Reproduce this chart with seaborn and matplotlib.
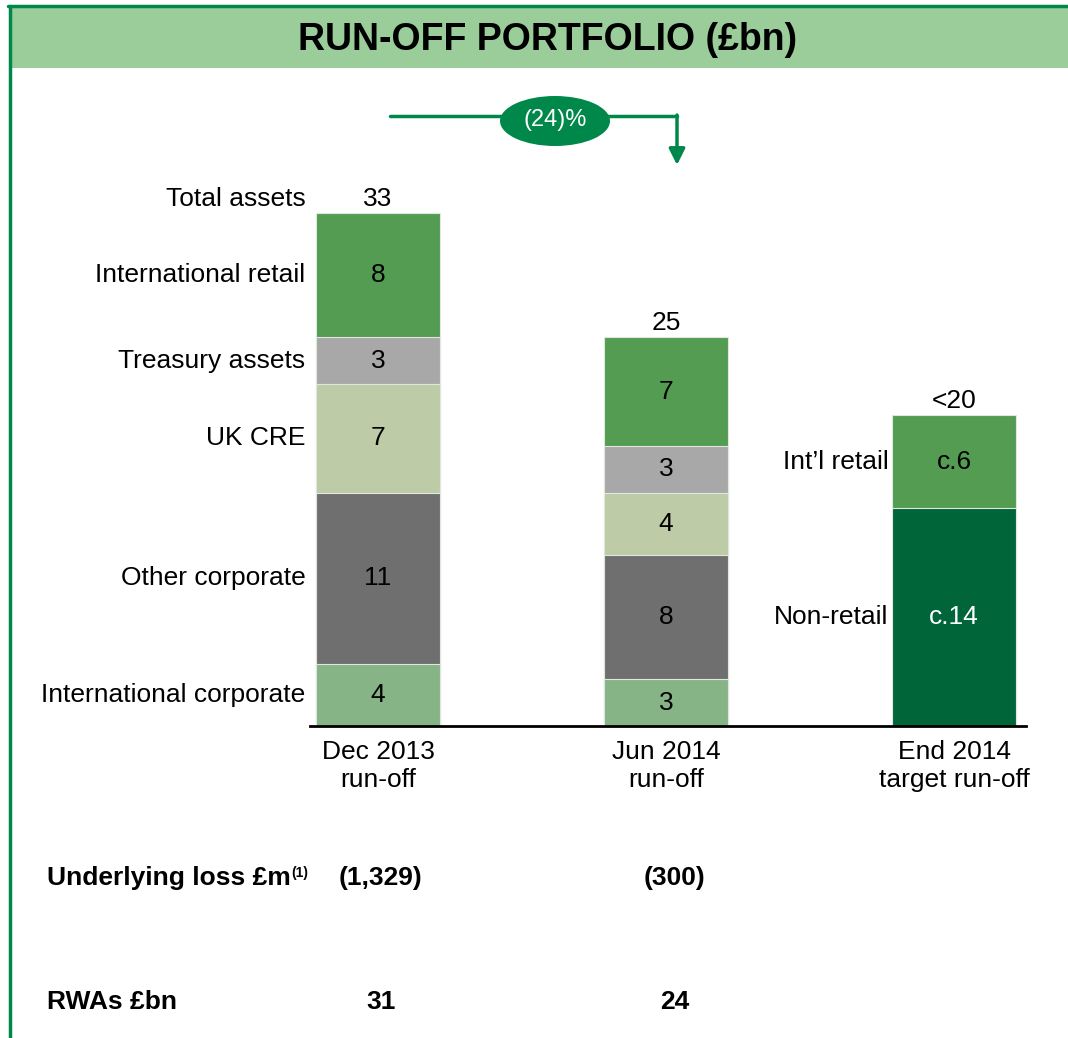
import pandas as pd
import matplotlib.pyplot as plt
import matplotlib.transforms as mtransforms
from matplotlib.patches import Ellipse, Rectangle, FancyArrowPatch
from matplotlib.lines import Line2D
import seaborn as sns

# Data
periods = ["Dec 2013\nrun-off", "Jun 2014\nrun-off", "End 2014\ntarget run-off"]
segments = ["International corporate", "Other corporate", "UK CRE",
            "Treasury assets", "International retail"]  # bottom -> top
dec13 = [4, 11, 7, 3, 8]
jun14 = [3, 8, 4, 3, 7]
target_segments = ["Non-retail", "Int\u2019l retail"]
target = [14, 6]
target_labels = ["c.14", "c.6"]
total_labels = ["33", "25", "<20"]
loss_labels = ["(1,329)", "(300)"]
rwa_labels = ["31", "24"]
change_label = "(24)%"

seg_colors = {
    "International corporate": "#86B487",
    "Other corporate": "#6F6F6F",
    "UK CRE": "#BECBA7",
    "Treasury assets": "#A8A8A8",
    "International retail": "#539C52",
    "Int\u2019l retail": "#539C52",
    "Non-retail": "#00663A",
}
border_green = "#00884A"

# long table with cumulative tops so the stacks can be layered
rows = []
for period, names, vals, labs in zip(periods,
                                     [segments, segments, target_segments],
                                     [dec13, jun14, target],
                                     [[str(v) for v in dec13], [str(v) for v in jun14], target_labels]):
    base = 0
    for level, (name, v, lab) in enumerate(zip(names, vals, labs)):
        rows.append(dict(period=period, segment=name, value=v, bottom=base,
                         top=base + v, level=level, label=lab))
        base += v
df = pd.DataFrame(rows)

sns.set_theme(style="white")
plt.rcParams['font.family'] = ['Liberation Sans', 'DejaVu Sans']
plt.rcParams['text.color'] = 'black'
plt.rcParams['xtick.color'] = 'black'

W, H = 1068, 1038
fig = plt.figure(figsize=(W / 100, H / 100), dpi=100)


def fy(py):
    return 1 - py / H


fs = 19
px_per_unit = 15.55
ax = fig.add_axes([310 / W, fy(726), (1026 - 310) / W, (726 - 100) / H])

bar_w = 0.434
# draw cumulative bars from the top layer down so lower segments sit on top
for level in sorted(df["level"].unique(), reverse=True):
    sub = df[df["level"] == level]
    sns.barplot(data=sub, x="period", y="top", hue="segment", palette=seg_colors,
                order=periods, dodge=False, width=bar_w, saturation=1,
                errorbar=None, legend=False, edgecolor="#dfe8df", linewidth=0.8, ax=ax)

ax.set_xlim(-68 / 288, 2 + 72 / 288)
ax.set_ylim(0, 626 / px_per_unit)

# values inside segments
for _, r in df.iterrows():
    xi = periods.index(r["period"])
    col = "white" if r["segment"] == "Non-retail" else "black"
    ax.text(xi, r["bottom"] + r["value"] / 2, r["label"], ha="center", va="center",
            fontsize=fs, color=col)

# totals above bars
off = 14 / px_per_unit
totals = df.groupby("period", sort=False)["top"].max()
for i, p in enumerate(periods):
    ax.text(i, totals[p] + off, total_labels[i], ha="center", va="center", fontsize=fs)

# segment names to the left of first bar and third bar
lx = -bar_w / 2 - 10 / 288
first = df[df["period"] == periods[0]]
for _, r in first.iterrows():
    ax.text(lx, r["bottom"] + r["value"] / 2, r["segment"], ha="right", va="center", fontsize=fs)
ax.text(lx, totals[periods[0]] + off, "Total assets", ha="right", va="center", fontsize=fs)

third = df[df["period"] == periods[2]]
for _, r in third.iterrows():
    ax.text(2 - bar_w / 2 - 3 / 288, r["bottom"] + r["value"] / 2, r["segment"],
            ha="right", va="center", fontsize=fs)

ax.set_xlabel("")
ax.set_ylabel("")
ax.set_yticks([])
ax.tick_params(axis="x", length=0, pad=10, labelsize=fs, labelcolor="black")
for s in ["left", "top", "right"]:
    ax.spines[s].set_visible(False)
ax.spines["bottom"].set_color("black")
ax.spines["bottom"].set_linewidth(2)
ax.set_facecolor("none")

# header band and frame
fig.patches.append(Rectangle((10 / W, fy(68)), 1 - 10 / W, 60 / H, transform=fig.transFigure,
                             facecolor="#9BCD9B", edgecolor="none", zorder=0))
fig.add_artist(Line2D([8 / W, 1], [fy(6), fy(6)], color=border_green, lw=2.5))
fig.add_artist(Line2D([9.5 / W, 9.5 / W], [fy(6), 0], color=border_green, lw=2.5))
fig.text(548 / W, fy(40), "RUN-OFF PORTFOLIO (\u00a3bn)", ha="center", va="center",
         fontsize=27, fontweight="bold")

# change arrow from first to second bar
fig.add_artist(Line2D([390 / W, 677 / W], [fy(116), fy(116)], color=border_green, lw=2.5))
fig.add_artist(FancyArrowPatch((677 / W, fy(115)), (677 / W, fy(165)), transform=fig.transFigure,
                               arrowstyle="-|>", mutation_scale=24, color=border_green, lw=2.5,
                               shrinkA=0, shrinkB=0))
fig.patches.append(Ellipse((555 / W, fy(121)), 110 / W, 50 / H, transform=fig.transFigure,
                           facecolor=border_green, edgecolor="none", zorder=3))
fig.text(555 / W, fy(120), change_label, ha="center", va="center", fontsize=17,
         color="white", zorder=4)

# footer rows
blend = mtransforms.blended_transform_factory(ax.transData, fig.transFigure)
t_loss = fig.text(47 / W, fy(878), "Underlying loss \u00a3m", ha="left", va="center",
                  fontsize=fs, fontweight="bold")
ax.annotate("(1)", xy=(1, 1), xycoords=t_loss, xytext=(0.5, 0), textcoords="offset points",
            ha="left", va="top", fontsize=10, fontweight="bold", annotation_clip=False)
fig.text(47 / W, fy(1002), "RWAs \u00a3bn", ha="left", va="center",
         fontsize=fs, fontweight="bold")
for i, (l, r) in enumerate(zip(loss_labels, rwa_labels)):
    xpos = i + (0.01 if i == 0 else 0.03)
    ax.text(xpos, fy(878), l, transform=blend, ha="center", va="center",
            fontsize=fs, fontweight="bold")
    ax.text(xpos, fy(1002), r, transform=blend, ha="center", va="center",
            fontsize=fs, fontweight="bold")

fig.savefig("out.png", dpi=100)
